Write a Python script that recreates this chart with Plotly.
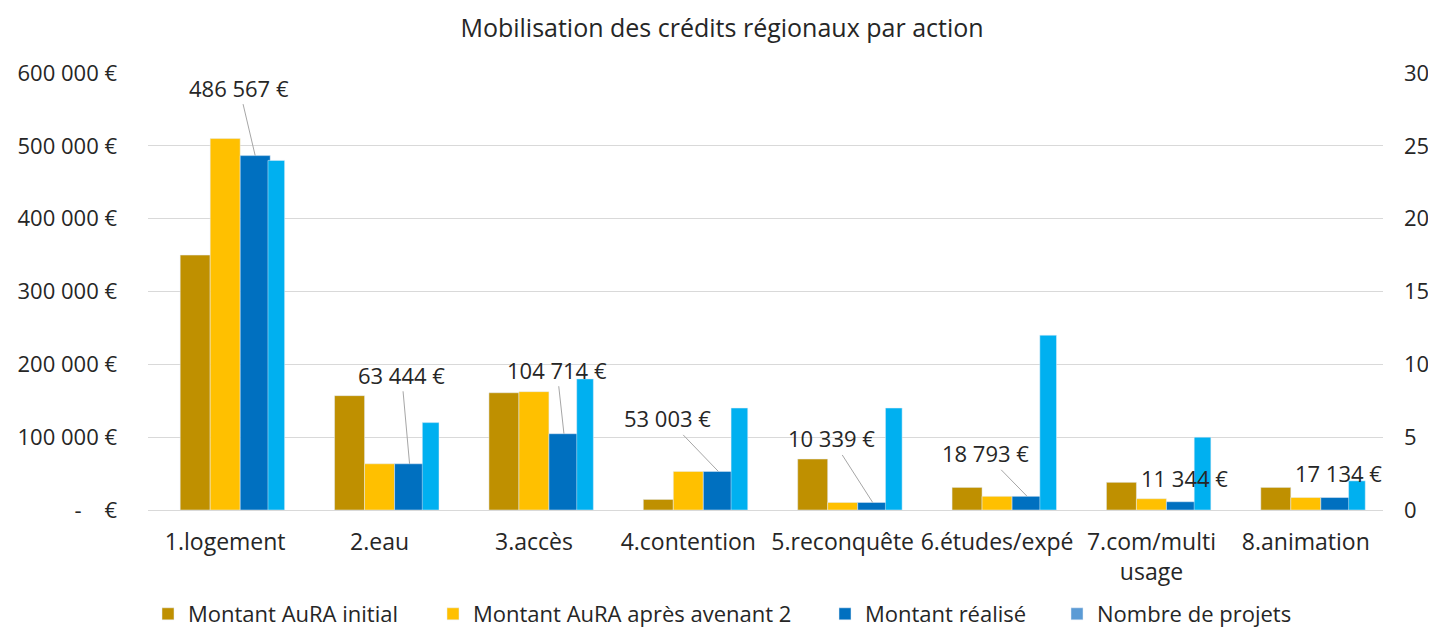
import plotly.graph_objects as go

# ---- data ----
categories = ["1.logement", "2.eau", "3.accès", "4.contention", "5.reconquête",
              "6.études/expé", "7.com/multi<br>usage", "8.animation"]
montant_initial = [350000, 157000, 161000, 14500, 70000, 31000, 38000, 31000]
montant_avenant2 = [510000, 63444, 162500, 53003, 10339, 18793, 15500, 17134]
montant_realise = [486567, 63444, 104714, 53003, 10339, 18793, 11344, 17134]
nombre_projets = [24, 6, 9, 7, 7, 12, 5, 2]
realise_labels = ["486 567 €", "63 444 €", "104 714 €", "53 003 €", "10 339 €",
                  "18 793 €", "11 344 €", "17 134 €"]
left_tickvals = [0, 100000, 200000, 300000, 400000, 500000, 600000]
left_ticktext = ["-\u00a0\u00a0\u00a0\u00a0€", "100 000 €", "200 000 €", "300 000 €",
                 "400 000 €", "500 000 €", "600 000 €"]
right_tickvals = [0, 5, 10, 15, 20, 25, 30]

# ---- style ----
FONT = "Open Sans"
FS = 22
TXT = "#262626"
GRID = "#D9D9D9"
C_INIT = "#BF9000"
C_AV = "#FFC000"
C_REAL = "#0070C0"
C_PROJ = "#00B0F0"
C_PROJ_LEG = "#5B9BD5"
# page body has an 8px margin: work in figure coordinates shifted by 8px
OFF = 8
FIG_W, FIG_H = 1436 - OFF, 630 - OFF
# plot area in screen px
PL, PR, PT, PB = 148, 1383, 73, 510
# label offsets in pixels (tail relative to bar top), and whether a leader line shows
label_ax = [-16, -8, -7, -51, -41, -42, 3, 3]
label_ay = [-68, -89, -64, -53, -64, -43, -24, -25]
label_line = [True, True, True, True, True, True, False, False]
# legend entry text starts (screen px)
legend_text_x = [185, 470, 862, 1094]
LEG_Y = 614

idx = list(range(len(categories)))
W = 0.1943

fig = go.Figure()
fig.add_trace(go.Bar(x=idx, y=montant_initial, name="Montant AuRA initial",
                     marker_color=C_INIT, width=W, offset=-0.2915, yaxis="y",
                     legend="legend"))
fig.add_trace(go.Bar(x=idx, y=montant_avenant2, name="Montant AuRA après avenant 2",
                     marker_color=C_AV, width=W, offset=-0.0972, yaxis="y",
                     legend="legend2"))
fig.add_trace(go.Bar(x=idx, y=montant_realise, name="Montant réalisé",
                     marker_color=C_REAL, width=W, offset=0.0972, yaxis="y",
                     legend="legend3"))
fig.add_trace(go.Bar(x=idx, y=nombre_projets, name="Nombre de projets",
                     marker_color=C_PROJ, width=0.108, offset=0.277, yaxis="y2",
                     showlegend=False))
# legend entry for the project count (Excel shows a different swatch colour)
fig.add_trace(go.Bar(x=[None], y=[None], name="Nombre de projets",
                     marker_color=C_PROJ_LEG, yaxis="y2", showlegend=True,
                     legend="legend4"))

for i, v in enumerate(montant_realise):
    fig.add_annotation(
        x=i + 0.0972 + W / 2, y=v, xref="x", yref="y",
        text=realise_labels[i], showarrow=True, arrowhead=0, arrowwidth=1,
        arrowcolor="#A6A6A6" if label_line[i] else "rgba(0,0,0,0)",
        ax=label_ax[i], ay=label_ay[i], standoff=0, startstandoff=0,
        font=dict(family=FONT, size=FS, color=TXT))


def leg(tx):
    return dict(orientation="h", x=(tx - 37 - OFF) / FIG_W, xanchor="left",
                xref="container", y=1 - (LEG_Y - OFF) / FIG_H, yanchor="middle",
                yref="container", bgcolor="rgba(0,0,0,0)", borderwidth=0,
                font=dict(family=FONT, size=FS, color=TXT))


fig.update_layout(
    width=FIG_W, height=FIG_H,
    paper_bgcolor="white", plot_bgcolor="white",
    margin=dict(l=PL - OFF, r=FIG_W - (PR - OFF), t=PT - OFF, b=FIG_H - (PB - OFF),
                autoexpand=False),
    barmode="overlay",
    font=dict(family=FONT, size=FS, color=TXT),
    title=dict(text="Mobilisation des crédits régionaux par action",
               x=(722 - OFF) / FIG_W, xanchor="center", xref="container",
               y=1 - (28 - OFF) / FIG_H, yanchor="middle", yref="container",
               font=dict(family=FONT, size=25, color=TXT)),
    xaxis=dict(tickmode="array", tickvals=idx, ticktext=categories,
               range=[-0.5, len(categories) - 0.5], showgrid=False,
               showline=False, zeroline=False, ticks="", ticklabelstandoff=16,
               tickfont=dict(family=FONT, size=23, color=TXT)),
    yaxis=dict(range=[0, 600000], tickvals=left_tickvals, ticktext=left_ticktext,
               showgrid=True, gridcolor=GRID, gridwidth=1, zeroline=True,
               zerolinecolor=GRID, zerolinewidth=1, showline=False, ticks="",
               ticklabelstandoff=30),
    yaxis2=dict(range=[0, 30], tickvals=right_tickvals, overlaying="y", side="right",
                showgrid=False, zeroline=False, showline=False, ticks="",
                ticklabelstandoff=20),
    legend=leg(legend_text_x[0]),
    legend2=leg(legend_text_x[1]),
    legend3=leg(legend_text_x[2]),
    legend4=leg(legend_text_x[3]),
)

fig.write_html("out.html")
